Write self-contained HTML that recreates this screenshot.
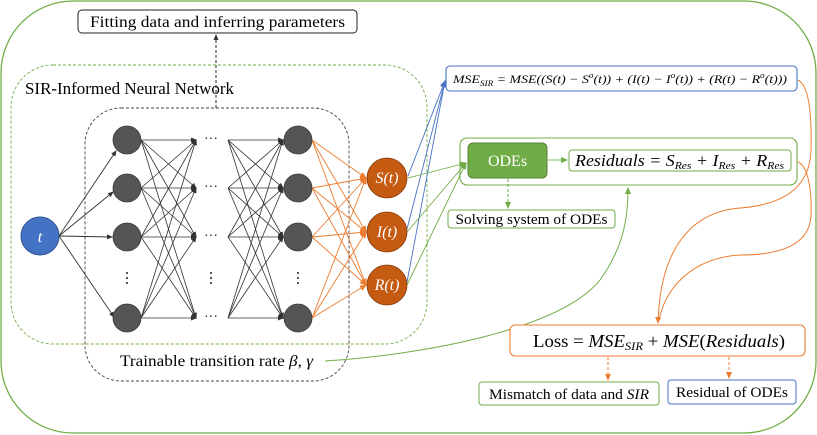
<!DOCTYPE html>
<html><head><meta charset="utf-8"><style>
html,body{margin:0;padding:0;background:#fff}
svg{display:block}
.it{font-style:italic}
</style></head><body>
<svg width="817" height="435" viewBox="0 0 817 435" xmlns="http://www.w3.org/2000/svg" font-family="Liberation Serif, serif">
<defs>
<marker id="ak" markerWidth="6" markerHeight="6" refX="5" refY="3" orient="auto" markerUnits="userSpaceOnUse"><path d="M0,0.5 L6,3 L0,5.5z" fill="#333"/></marker>
<marker id="ao" markerWidth="7" markerHeight="7" refX="6" refY="3.5" orient="auto" markerUnits="userSpaceOnUse"><path d="M0,0.5 L7,3.5 L0,6.5z" fill="#ed7d31"/></marker>
<marker id="ab" markerWidth="7" markerHeight="7" refX="6" refY="3.5" orient="auto" markerUnits="userSpaceOnUse"><path d="M0,0.5 L7,3.5 L0,6.5z" fill="#4472c4"/></marker>
<marker id="ag" markerWidth="7" markerHeight="7" refX="6" refY="3.5" orient="auto" markerUnits="userSpaceOnUse"><path d="M0,0.5 L7,3.5 L0,6.5z" fill="#70ad47"/></marker>
</defs>
<rect x="1" y="1" width="815" height="432" rx="72" fill="none" stroke="#70ad47" stroke-width="1.3"/>
<rect x="78" y="10" width="279" height="23" rx="4" fill="#fff" stroke="#222" stroke-width="1"/>
<text x="217.5" y="27" font-size="16" text-anchor="middle" textLength="255" lengthAdjust="spacingAndGlyphs">Fitting data and inferring parameters</text>
<line x1="216" y1="108" x2="216" y2="35" stroke="#222" stroke-dasharray="3,2" marker-end="url(#ak)"/>
<rect x="11" y="65" width="416" height="279" rx="42" fill="none" stroke="#70ad47" stroke-dasharray="3,2" stroke-width="0.9"/>
<text x="25" y="94" font-size="17" textLength="209" lengthAdjust="spacingAndGlyphs">SIR-Informed Neural Network</text>
<rect x="85" y="108" width="264" height="273" rx="36" fill="none" stroke="#444" stroke-dasharray="3,2" stroke-width="0.9"/>
<g stroke="#333" stroke-width="0.9" marker-end="url(#ak)">
<line x1="59" y1="236" x2="116" y2="151"/><line x1="59" y1="236" x2="113" y2="192"/><line x1="59" y1="236" x2="112" y2="237"/><line x1="59" y1="236" x2="114" y2="317"/>
</g>
<g stroke="#333" stroke-width="0.8" marker-end="url(#ak)">
<line x1="141" y1="140" x2="196" y2="140"/><line x1="141" y1="140" x2="196" y2="188"/><line x1="141" y1="140" x2="196" y2="237"/><line x1="141" y1="140" x2="196" y2="318"/>
<line x1="141" y1="188" x2="196" y2="140"/><line x1="141" y1="188" x2="196" y2="188"/><line x1="141" y1="188" x2="196" y2="237"/><line x1="141" y1="188" x2="196" y2="318"/>
<line x1="141" y1="237" x2="196" y2="140"/><line x1="141" y1="237" x2="196" y2="188"/><line x1="141" y1="237" x2="196" y2="237"/><line x1="141" y1="237" x2="196" y2="318"/>
<line x1="141" y1="318" x2="196" y2="140"/><line x1="141" y1="318" x2="196" y2="188"/><line x1="141" y1="318" x2="196" y2="237"/><line x1="141" y1="318" x2="196" y2="318"/>
</g>
<g stroke="#333" stroke-width="0.8" marker-end="url(#ak)">
<line x1="228" y1="140" x2="283" y2="140"/><line x1="228" y1="140" x2="283" y2="188"/><line x1="228" y1="140" x2="283" y2="237"/><line x1="228" y1="140" x2="283" y2="318"/>
<line x1="228" y1="188" x2="283" y2="140"/><line x1="228" y1="188" x2="283" y2="188"/><line x1="228" y1="188" x2="283" y2="237"/><line x1="228" y1="188" x2="283" y2="318"/>
<line x1="228" y1="237" x2="283" y2="140"/><line x1="228" y1="237" x2="283" y2="188"/><line x1="228" y1="237" x2="283" y2="237"/><line x1="228" y1="237" x2="283" y2="318"/>
<line x1="228" y1="318" x2="283" y2="140"/><line x1="228" y1="318" x2="283" y2="188"/><line x1="228" y1="318" x2="283" y2="237"/><line x1="228" y1="318" x2="283" y2="318"/>
</g>
<g stroke="#ed7d31" stroke-width="0.9" marker-end="url(#ao)">
<line x1="312" y1="140" x2="366" y2="178"/><line x1="312" y1="140" x2="366" y2="232"/><line x1="312" y1="140" x2="366" y2="285"/>
<line x1="312" y1="188" x2="366" y2="178"/><line x1="312" y1="188" x2="366" y2="232"/><line x1="312" y1="188" x2="366" y2="285"/>
<line x1="312" y1="237" x2="366" y2="178"/><line x1="312" y1="237" x2="366" y2="232"/><line x1="312" y1="237" x2="366" y2="285"/>
<line x1="312" y1="318" x2="366" y2="178"/><line x1="312" y1="318" x2="366" y2="232"/><line x1="312" y1="318" x2="366" y2="285"/>
</g>
<g fill="#555" stroke="#3a3a3a" stroke-width="0.8">
<circle cx="127" cy="140" r="14"/><circle cx="127" cy="188" r="14"/><circle cx="127" cy="237" r="14"/><circle cx="127" cy="318" r="14"/>
<circle cx="298" cy="140" r="14"/><circle cx="298" cy="188" r="14"/><circle cx="298" cy="237" r="14"/><circle cx="298" cy="318" r="14"/>
</g>
<g font-size="14" text-anchor="middle" fill="#222">
<text x="211" y="143">···</text><text x="211" y="191">···</text><text x="211" y="240">···</text><text x="211" y="321">···</text>
</g>
<g fill="#222"><circle cx="127" cy="273" r="1"/><circle cx="127" cy="278" r="1"/><circle cx="127" cy="283" r="1"/>
<circle cx="211" cy="273" r="1"/><circle cx="211" cy="278" r="1"/><circle cx="211" cy="283" r="1"/>
<circle cx="298" cy="273" r="1"/><circle cx="298" cy="278" r="1"/><circle cx="298" cy="283" r="1"/></g>
<circle cx="40" cy="236" r="19" fill="#4472c4" stroke="#2f528f" stroke-width="1"/>
<text x="40" y="242" font-size="16" fill="#fff" text-anchor="middle" class="it">t</text>
<g stroke="#4472c4" stroke-width="0.9" marker-end="url(#ab)">
<line x1="408" y1="176" x2="445" y2="81"/><line x1="407" y1="229" x2="445" y2="81"/><line x1="407" y1="282" x2="445" y2="81"/>
</g>
<g stroke="#70ad47" stroke-width="0.9" marker-end="url(#ag)">
<line x1="408" y1="178" x2="466" y2="163"/><line x1="407" y1="232" x2="466" y2="163"/><line x1="407" y1="285" x2="466" y2="163"/>
</g>
<g fill="#c55a11" stroke="#843c0c" stroke-width="0.8">
<circle cx="387" cy="178" r="20"/><circle cx="387" cy="232" r="20"/><circle cx="387" cy="285" r="20"/>
</g>
<g font-size="16" fill="#fff" text-anchor="middle" class="it">
<text x="387" y="183">S(t)</text><text x="387" y="237">I(t)</text><text x="387" y="290">R(t)</text>
</g>
<text x="120" y="366" font-size="16" textLength="193" lengthAdjust="spacingAndGlyphs">Trainable transition rate <tspan class="it">β</tspan>, <tspan class="it">γ</tspan></text>
<path d="M325,361 C420,355 560,330 600,280 C625,245 628,215 628,188" fill="none" stroke="#70ad47" stroke-width="1" marker-end="url(#ag)"/>
<rect x="446" y="66" width="351" height="25" rx="4" fill="#fff" stroke="#4472c4" stroke-width="1.1"/>
<text x="453" y="83" font-size="12" class="it" textLength="334" lengthAdjust="spacingAndGlyphs">MSE<tspan font-size="8" dy="3">SIR</tspan><tspan dy="-3"> = MSE((S(t) − S</tspan><tspan font-size="8" dy="-5">o</tspan><tspan dy="5">(t)) + (I(t) − I</tspan><tspan font-size="8" dy="-5">o</tspan><tspan dy="5">(t)) + (R(t) − R</tspan><tspan font-size="8" dy="-5">o</tspan><tspan dy="5">(t)))</tspan></text>
<rect x="460" y="138" width="337" height="47" rx="7" fill="none" stroke="#70ad47" stroke-width="1.1"/>
<rect x="468" y="143" width="79" height="35" rx="5" fill="#70ad47" stroke="#548235" stroke-width="1"/>
<text x="507.5" y="166" font-size="16" fill="#fff" text-anchor="middle">ODEs</text>
<line x1="548" y1="160" x2="567" y2="160" stroke="#a9d18e" stroke-width="1.5" marker-end="url(#ag)"/>
<rect x="569" y="150" width="222" height="21" rx="3" fill="#fff" stroke="#70ad47" stroke-width="1"/>
<text x="575" y="166" font-size="17" class="it" textLength="209" lengthAdjust="spacingAndGlyphs">Residuals = S<tspan font-size="11" dy="3">Res</tspan><tspan dy="-3"> + I</tspan><tspan font-size="11" dy="3">Res</tspan><tspan dy="-3"> + R</tspan><tspan font-size="11" dy="3">Res</tspan></text>
<line x1="508" y1="179" x2="508" y2="208" stroke="#70ad47" stroke-dasharray="3,2" marker-end="url(#ag)"/>
<rect x="448" y="210" width="167" height="18" rx="3" fill="#fff" stroke="#70ad47" stroke-width="1"/>
<text x="531.5" y="224" font-size="15" text-anchor="middle" textLength="152" lengthAdjust="spacingAndGlyphs">Solving system of ODEs</text>
<path d="M798,80 C808,85 812,110 811,150 C810,190 780,205 740,208 C690,212 660,250 658,323" fill="none" stroke="#ed7d31" stroke-width="1" marker-end="url(#ao)"/>
<path d="M798,162 C808,166 812,190 811,215 C810,245 780,255 740,255 C690,258 665,290 659,320" fill="none" stroke="#ed7d31" stroke-width="1"/>
<rect x="510" y="325" width="295" height="31" rx="5" fill="#fff" stroke="#ed7d31" stroke-width="1.1"/>
<text x="533" y="347" font-size="18" textLength="252" lengthAdjust="spacingAndGlyphs">Loss = <tspan class="it">MSE</tspan><tspan class="it" font-size="12" dy="3">SIR</tspan><tspan dy="-3"> + </tspan><tspan class="it">MSE</tspan>(<tspan class="it">Residuals</tspan>)</text>
<g stroke="#ed7d31" stroke-dasharray="3,2" fill="none">
<line x1="608" y1="357" x2="608" y2="380" marker-end="url(#ao)"/>
<line x1="729" y1="357" x2="729" y2="378" marker-end="url(#ao)"/>
</g>
<rect x="479" y="382" width="180" height="23" rx="3" fill="#fff" stroke="#70ad47" stroke-width="1"/>
<text x="569" y="399" font-size="15" text-anchor="middle" textLength="160" lengthAdjust="spacingAndGlyphs">Mismatch of data and <tspan class="it">SIR</tspan></text>
<rect x="668" y="380" width="128" height="24" rx="3" fill="#fff" stroke="#4472c4" stroke-width="1"/>
<text x="732" y="397" font-size="15" text-anchor="middle" textLength="112" lengthAdjust="spacingAndGlyphs">Residual of ODEs</text>
</svg>
</body></html>
